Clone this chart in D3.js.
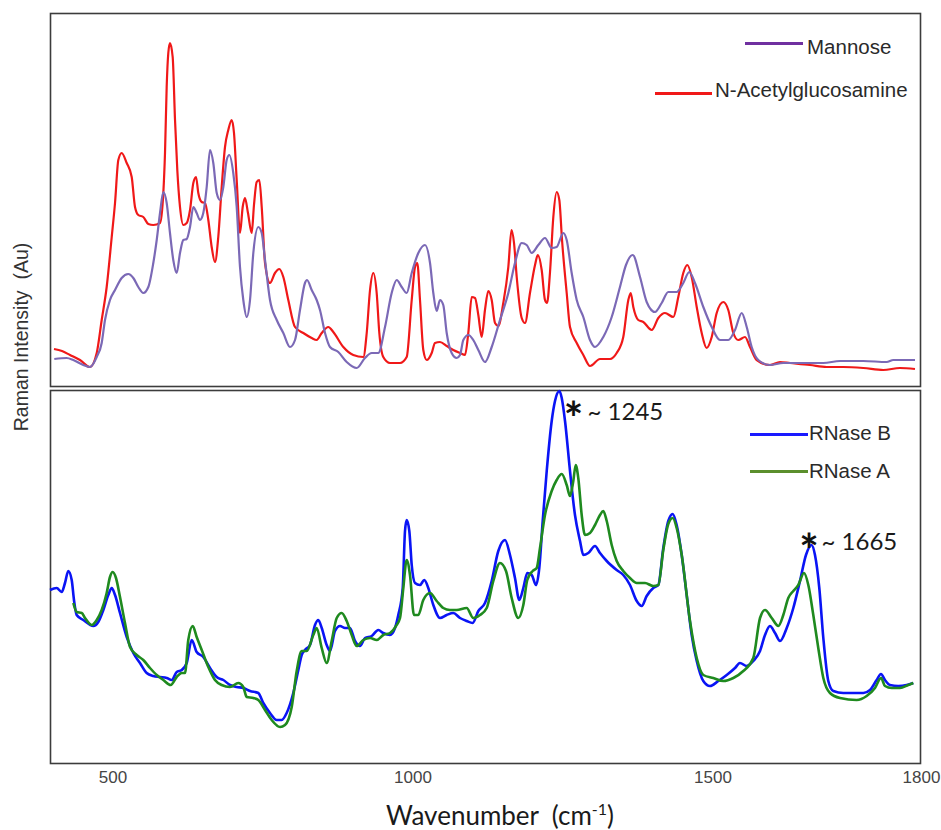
<!DOCTYPE html>
<html>
<head>
<meta charset="utf-8">
<script src="https://cdn.jsdelivr.net/npm/d3@7"></script>
<style>
  body { margin: 0; background: #fff; }
  svg { display: block; }
</style>
</head>
<body>
<svg id="chart" width="941" height="830"></svg>
<script>
// Wavenumber (cm-1) axis ticks
const tickValues = [500, 1000, 1500, 1800];

// Top panel: monosaccharide spectra, [wavenumber, intensity (a.u.)]
const nAcetylglucosamine = [
  [402.5,38],[415.8,36],[429.2,32],[445.8,27],[462.5,20],[473.7,34],[482,67],[490.3,100],[498.7,150],
  [504.2,184],[509.7,227],[515.3,234],[523.7,224],[532,210],[537.5,180],[543,172],[551.3,170],[559.7,163],
  [568,162],[579.2,164],[584.7,194],[587.5,234],[590.3,300],[593,334],[595.8,344],[600.3,330],[604.2,267],
  [608,217],[612.5,180],[618,162],[623.7,164],[629.2,177],[634.7,204],[639.2,210],[643,194],[648.7,185],
  [654.2,184],[659.7,167],[665.3,140],[670.8,125],[676.3,150],[682,200],[687.5,240],[693,257],[698.7,267],
  [702.5,254],[707,207],[712.5,154],[717,180],[720.8,189],[725.8,174],[732,154],[735.8,182],[740.3,205],
  [744.7,207],[748.7,180],[754.2,124],[762.5,104],[770.8,114],[778,118],[784.7,110],[793,87],[804.2,60],
  [818,54],[832,49],[840.3,47],[848.7,54],[859.7,60],[868,55],[884.7,40],[901.3,32],[918,30],[923.7,54],
  [929.2,97],[934.7,114],[940.3,94],[944.7,54],[951.3,30],[962.5,24],[979.2,24],[990.3,30],[998.7,87],
  [1004.2,120],[1008,124],[1012.5,87],[1018,37],[1023.7,27],[1032,34],[1037.5,44],[1045.8,45],[1057,41],
  [1068,37],[1079.2,34],[1087.5,32],[1093,54],[1098.7,90],[1104.2,89],[1109.7,72],[1115.3,50],[1120.8,77],
  [1126.3,96],[1132,87],[1137.5,64],[1143,61],[1151.3,84],[1159.7,120],[1165,157],[1169.2,144],[1173.7,110],
  [1182,69],[1187.5,64],[1195.8,94],[1204.2,122],[1208.8,132],[1215.3,117],[1220.8,87],[1224.2,84],
  [1229.2,115],[1234.7,170],[1240.3,195],[1244.7,187],[1249.2,147],[1257,94],[1262.5,60],[1273.7,44],
  [1284.7,32],[1295.8,21],[1312.5,28],[1329.2,28],[1340.3,34],[1351.3,50],[1359.7,87],[1363.7,94],
  [1368,80],[1376.3,67],[1384.7,65],[1398.7,57],[1409.7,69],[1420.8,74],[1434.7,70],[1443,90],[1451.3,114],
  [1458,122],[1465.3,110],[1473.7,80],[1482,54],[1490.3,39],[1498.7,50],[1507,74],[1518,85],[1526.3,77],
  [1534.7,54],[1543,47],[1554.2,50],[1562.5,40],[1573.7,27],[1595.8,22],[1612.5,25],[1629.2,24],
  [1662.5,22],[1690.3,20],[1712.2,20],[1734.8,19],[1757.4,17],[1776.2,19],[1793.2,18]
];

const mannose = [
  [403,28],[423.7,29],[434.7,27],[451.3,22],[462.5,20],[473.7,30],[482,44],[487.5,67],[495.8,87],
  [504.2,97],[515.3,109],[526.3,113],[534.7,109],[543,100],[551.3,94],[559.7,100],[568,124],[573.7,147],
  [579.2,174],[584.7,195],[590.3,184],[595.8,154],[601.3,127],[607,114],[612.5,134],[618,147],[623.7,148],
  [629.2,160],[634.7,180],[640.3,174],[645.8,167],[651.3,174],[657,200],[662.5,237],[668,224],[673.7,194],
  [679.2,187],[684.7,200],[690.3,227],[694.7,232],[701.3,214],[707,180],[712.5,120],[718,87],[723.7,70],
  [729.2,87],[734.7,134],[743,160],[748.7,154],[754.2,127],[762.5,87],[773.7,67],[784.7,54],[795.8,40],
  [804.2,47],[812.5,77],[820.8,104],[824.2,107],[832,97],[840.3,87],[845.8,77],[854.2,54],[862.5,40],
  [876.3,35],[890.3,25],[907,19],[920.8,29],[932,34],[943,34],[954.2,60],[965.3,94],[973.7,107],[982,100],
  [990.3,94],[998.7,114],[1009.7,134],[1020.8,142],[1029.2,124],[1034.7,94],[1040.3,76],[1045.8,87],
  [1051.3,82],[1057,54],[1065.3,34],[1073.7,29],[1079.2,32],[1084.7,47],[1093,52],[1101.3,47],[1109.7,37],
  [1120.8,25],[1132,40],[1145.8,67],[1159.7,94],[1170.8,124],[1182,144],[1190.3,142],[1198.7,134],
  [1209.7,142],[1220.8,149],[1232,139],[1240.3,140],[1251.3,154],[1257,147],[1265.3,114],[1273.7,87],
  [1284.7,70],[1295.8,47],[1304.2,40],[1318,50],[1332,70],[1345.8,100],[1355.8,122],[1367,132],
  [1379.2,110],[1390.3,85],[1404.2,75],[1415.3,84],[1426.3,95],[1440.3,95],[1451.3,104],[1461.3,115],
  [1470.8,104],[1484.7,80],[1498.7,60],[1512.5,47],[1526.3,47],[1537.5,57],[1548.7,74],[1557,60],
  [1565.3,40],[1576.3,27],[1595.8,22],[1618,24],[1651.3,24],[1684.7,24],[1708.5,26],[1734.8,26],
  [1761.2,25],[1768.7,27],[1793.2,27]
];

// Bottom panel: glycoprotein spectra
const rnaseB = [
  [395.8,173],[407,175],[415.3,171],[420.8,180],[426.3,192],[432,183],[435.8,163],[440.3,148],[451.3,143],
  [468,137],[476.3,141],[484.7,153],[493,168],[498.7,175],[504.2,168],[512.5,150],[523.7,126],[534.7,110],
  [545.8,100],[557,90],[568,87],[579.2,86],[590.3,85],[598.7,83],[607,91],[615.3,93],[623.7,100],[632,123],
  [640.3,111],[651.3,106],[662.5,95],[673.7,86],[684.7,83],[695.8,78],[707,76],[718,75],[729.2,72],[743,70],
  [751.3,60],[762.5,50],[773.7,43],[782,43],[790.3,50],[801.3,70],[809.7,93],[815.3,108],[820.8,113],
  [829.2,118],[837.5,138],[843,143],[848.7,135],[857,118],[862.5,112],[870.8,132],[879.2,137],[887.5,135],
  [895.8,135],[904.2,122],[912.5,117],[920.8,125],[932,127],[943,133],[951.3,130],[962.5,128],[970.8,135],
  [976.3,148],[983.7,175],[987.5,232],[990.3,243],[994.7,232],[998.7,198],[1004.2,180],[1012.5,178],
  [1019.7,183],[1026.3,175],[1034.7,158],[1045.8,145],[1057,148],[1068,150],[1079.2,145],[1090.3,142],
  [1100.3,140],[1109.7,152],[1120.8,160],[1132,182],[1143,212],[1154.2,223],[1162.5,208],[1170.8,185],
  [1178,163],[1184.7,175],[1191.3,190],[1198.7,188],[1205.8,178],[1211.3,195],[1217,242],[1223.7,292],
  [1232,342],[1237.5,362],[1245,372],[1248.7,365],[1254.2,342],[1262.5,292],[1270.8,248],[1279.2,222],
  [1284.7,208],[1293,210],[1304.2,217],[1312.5,210],[1323.7,202],[1340.3,193],[1351.3,188],[1362.5,178],
  [1373.7,162],[1382,157],[1390.3,167],[1401.3,175],[1409.7,178],[1418,215],[1426.3,242],[1433.7,249],
  [1440.3,238],[1448.7,208],[1457,168],[1465.3,128],[1473.7,102],[1484.7,82],[1495.8,77],[1509.7,82],
  [1523.7,88],[1537.5,95],[1545.8,100],[1557,97],[1568,102],[1579.2,112],[1587.5,128],[1595.8,137],
  [1604.2,130],[1612.5,122],[1623.7,135],[1634.7,155],[1645.8,182],[1655.8,208],[1665,218],[1670.8,208],
  [1678,175],[1684.7,125],[1693,82],[1700.9,72],[1712.2,70],[1734.8,70],[1742.4,73],[1749.9,83],
  [1754.8,89],[1759.3,83],[1764.9,78],[1774.3,77],[1783.8,78],[1791.3,80]
];

const rnaseA = [
  [434.7,160],[440.3,151],[448.7,150],[454.2,145],[465.3,138],[473.7,143],[482,153],[490.3,170],[495.8,186],
  [500.3,191],[505.8,185],[512.5,166],[520.8,140],[529.2,116],[540.3,108],[551.3,103],[562.5,95],[573.7,88],
  [584.7,83],[597,78],[607,86],[615.3,90],[620.8,90],[626.3,123],[633.7,137],[640.3,126],[648.7,113],
  [659.7,96],[670.8,83],[682,78],[695.8,76],[709.7,80],[718,76],[723.7,66],[734.7,65],[743,63],[754.2,53],
  [765.3,43],[779.2,36],[787.5,38],[798.7,56],[807,92],[815.3,112],[823.7,112],[834.7,128],[840.3,135],
  [848.7,115],[857,100],[865.3,122],[873.7,145],[882,150],[890.3,142],[898.7,128],[907,117],[918,123],
  [929.2,125],[940.3,123],[951.3,128],[962.5,130],[972.5,137],[979.2,145],[984.7,175],[990.3,203],
  [995.8,188],[1002.5,148],[1009.7,148],[1018,163],[1029.2,170],[1040.3,162],[1051.3,155],[1062.5,153],
  [1073.7,153],[1090.3,155],[1101.3,145],[1112.5,148],[1123.7,155],[1134.7,182],[1145.8,200],[1155.8,192],
  [1165.3,165],[1176.3,145],[1184.7,158],[1191.3,183],[1200.3,192],[1207,195],[1212.5,215],[1220.8,248],
  [1232,272],[1240.3,283],[1248.7,289],[1257,278],[1262.5,267],[1268,282],[1272,298],[1276.3,285],
  [1282,248],[1287.5,228],[1295.8,230],[1304.2,238],[1312.5,248],[1318,252],[1323.7,242],[1332,218],
  [1340.3,202],[1351.3,192],[1362.5,185],[1373.7,180],[1387.5,180],[1401.3,177],[1409.7,178],[1418,213],
  [1426.3,239],[1433.7,245],[1440.3,235],[1448.7,208],[1462.5,142],[1473.7,105],[1484.7,88],[1501.3,85],
  [1518,82],[1534.7,85],[1551.3,92],[1568,105],[1579.2,145],[1587.5,153],[1598.7,145],[1609.7,137],
  [1618,148],[1626.3,165],[1634.7,172],[1643,178],[1652.5,190],[1659.7,178],[1668,148],[1676.3,115],
  [1684.7,85],[1695.8,70],[1708.5,65],[1727.3,63],[1738.6,67],[1748,75],[1754.8,85],[1759.3,77],
  [1766.9,75],[1776.2,75],[1785.6,78],[1791.3,80]
];

// Marked glycan bands in the RNase B spectrum
const markedPeaks = [1245, 1665];

const topLegend = ["Mannose", "N-Acetylglucosamine"];
const bottomLegend = ["RNase B", "RNase A"];

// ---------------------------------------------------------------------------
const svg = d3.select("#chart");

const x = d3.scaleLinear().domain([500, 1700, 1800]).range([112.5, 832.5, 921]);
const yTop = d3.scaleLinear().domain([0, 373]).range([387, 14]);
const yBot = d3.scaleLinear().domain([0, 373]).range([763, 390]);

const frame = { left: 50.5, right: 920.5 };

// Panel frames
[[13.5, 386.5], [390.5, 763.5]].forEach(([t, b]) => {
  svg.append("rect")
    .attr("x", frame.left).attr("y", t)
    .attr("width", frame.right - frame.left).attr("height", b - t)
    .attr("fill", "none").attr("stroke", "#3c3c3c").attr("stroke-width", 1.6);
});

function drawLine(data, y, color, width) {
  svg.append("path")
    .datum(data)
    .attr("fill", "none")
    .attr("stroke", color)
    .attr("stroke-width", width)
    .attr("stroke-linejoin", "round")
    .attr("d", d3.line().x(d => x(d[0])).y(d => y(d[1])).curve(d3.curveMonotoneX));
}

drawLine(nAcetylglucosamine, yTop, "#f01818", 2.2);
drawLine(mannose, yTop, "#7b69b6", 2.2);
drawLine(rnaseB, yBot, "#0a14f5", 2.6);
drawLine(rnaseA, yBot, "#1f8a1f", 2.6);

// X axis (tick labels only)
const axis = svg.append("g")
  .attr("transform", "translate(0,763)")
  .call(d3.axisBottom(x).tickValues(tickValues).tickSize(0).tickPadding(8).tickFormat(d3.format("d")));
axis.select(".domain").remove();
axis.selectAll("text")
  .attr("font-family", "'Liberation Sans', Arial, sans-serif")
  .attr("font-size", 17)
  .attr("fill", "#454545");

// Axis titles
const xTitle = svg.append("text")
  .attr("x", 500).attr("y", 825)
  .attr("text-anchor", "middle")
  .attr("font-family", "Lato, 'Open Sans', sans-serif")
  .attr("font-size", 26)
  .attr("fill", "#1a1a1a")
  .style("white-space", "pre");
xTitle.append("tspan").text("Wavenumber  (cm");
xTitle.append("tspan").attr("font-size", 16).attr("dy", -10).text("-1");
xTitle.append("tspan").attr("dy", 10).text(")");

svg.append("text")
  .attr("transform", "translate(28,337) rotate(-90)")
  .attr("text-anchor", "middle")
  .attr("font-family", "'Liberation Sans', Arial, sans-serif")
  .attr("font-size", 19.5)
  .attr("fill", "#333")
  .style("white-space", "pre")
  .text("Raman Intensity  (Au)");

// Legends
function legendItem(x1, x2, ly, tx, ty, color, label) {
  svg.append("line")
    .attr("x1", x1).attr("x2", x2).attr("y1", ly).attr("y2", ly)
    .attr("stroke", color).attr("stroke-width", 3.2);
  svg.append("text")
    .attr("x", tx).attr("y", ty)
    .attr("font-family", "'Liberation Sans', Arial, sans-serif")
    .attr("font-size", 20.5)
    .attr("fill", "#2a2a2a")
    .text(label);
}
legendItem(745, 803, 43.5, 807, 54, "#7030a0", topLegend[0]);
legendItem(655, 712, 93.5, 715, 97, "#f01818", topLegend[1]);
legendItem(750, 808, 434.5, 809, 440, "#1a1aff", bottomLegend[0]);
legendItem(750, 808, 471.5, 809, 478, "#5b8f2d", bottomLegend[1]);

// Peak markers on the RNase B spectrum
const starSize = 46;
const markerOffsets = { 1245: { sx: 14, sy: 17, tx: 28, ty: 29 }, 1665: { sx: -2.5, sy: -5, tx: 10, ty: 5 } };
markedPeaks.forEach(w => {
  const pt = rnaseB.reduce((a, b) => Math.abs(b[0] - w) < Math.abs(a[0] - w) ? b : a);
  const px = x(pt[0]), py = yBot(pt[1]);
  const o = markerOffsets[w];
  svg.append("text")
    .attr("x", px + o.sx).attr("y", py + o.sy + 0.59 * starSize)
    .attr("text-anchor", "middle")
    .attr("font-family", "Lato, 'Open Sans', sans-serif")
    .attr("font-weight", "bold")
    .attr("font-size", starSize)
    .attr("fill", "#111")
    .text("*");
  svg.append("text")
    .attr("x", px + o.tx).attr("y", py + o.ty)
    .attr("font-family", "Lato, 'Open Sans', sans-serif")
    .attr("font-size", 24)
    .attr("fill", "#1a1a1a")
    .style("white-space", "pre")
    .text("~ " + w);
});
</script>
</body>
</html>
